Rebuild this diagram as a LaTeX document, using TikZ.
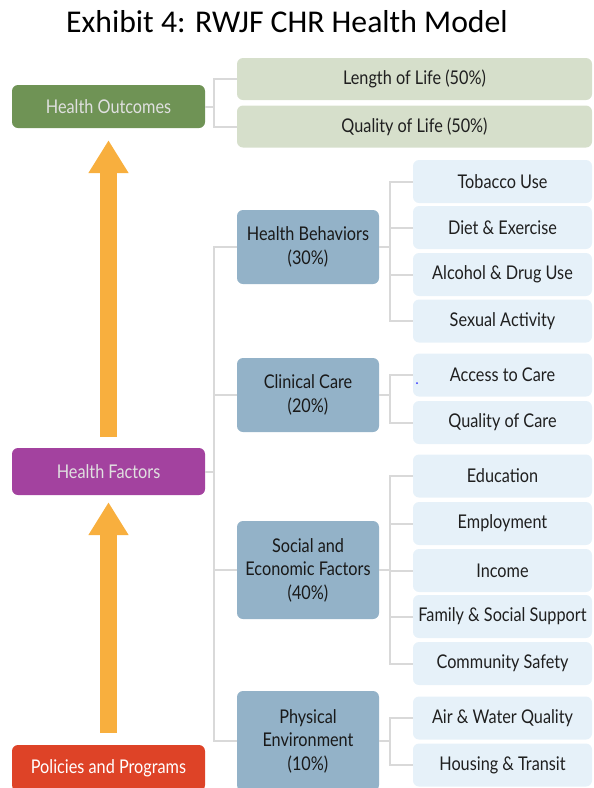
\documentclass[tikz,border=0pt]{standalone}
\usepackage{fontspec}
\setmainfont{Lato}[FakeStretch=0.86]
\newfontfamily\titlefont{Carlito}
\usepackage{xcolor}
\usetikzlibrary{arrows.meta}

\definecolor{outgreen}{HTML}{6F9355}
\definecolor{lifegreen}{HTML}{D6DFCB}
\definecolor{factpurple}{HTML}{A3429F}
\definecolor{polred}{HTML}{DE4327}
\definecolor{midblue}{HTML}{93B2C8}
\definecolor{itemblue}{HTML}{E6F1F9}
\definecolor{linkgray}{HTML}{D9D9D9}
\definecolor{upgold}{HTML}{F8AF3E}

\tikzset{
  box/.style={rounded corners=6pt, inner sep=0pt, align=center, font=\fontsize{18.9}{23.5}\selectfont},
  levelbox/.style={box, minimum width=193pt, text=white!88!black},
  lifebox/.style={box, fill=lifegreen, minimum width=355pt, minimum height=42pt, text=black!88},
  midbox/.style={box, fill=midblue, minimum width=142pt, text=black!90},
  itembox/.style={box, fill=itemblue, minimum width=179pt, minimum height=43pt, text=black!88},
  link/.style={draw=linkgray, line width=2pt},
  upward/.style={draw=upgold, line width=17pt, -{Triangle[width=38pt,length=33pt]}}
}

\begin{document}
\begin{tikzpicture}[x=1pt, y=-1pt]
  \useasboundingbox (0,0) rectangle (594,788);

  % Title
  \node[font=\titlefont\fontsize{31.7}{36}\selectfont] (title) at (287,22) {Exhibit 4: RWJF CHR Health Model};

  % Left column
  \node[levelbox, fill=outgreen, minimum height=43pt] (hout) at (108.5,106.5) {Health Outcomes};
  \node[levelbox, fill=factpurple, minimum height=47pt] (hfac) at (108.5,471.5) {Health Factors};
  \node[levelbox, fill=polred, minimum height=46pt, text=white] (pol) at (108.5,768) {Policies and Programs};

  % Outcomes
  \node[lifebox] (len) at (414.5,79) {Length of Life (50\%)};
  \node[lifebox] (qual) at (414.5,126.5) {Quality of Life (50\%)};

  % Factor groups
  \node[midbox, minimum height=74pt] (hbeh) at (308,247) {Health Behaviors\\(30\%)};
  \node[midbox, minimum height=74pt] (ccare) at (308,395) {Clinical Care\\(20\%)};
  \node[midbox, minimum height=98pt] (soc) at (308,570) {Social and\\Economic Factors\\(40\%)};
  \node[midbox, minimum height=100pt] (phys) at (308,741) {Physical\\Environment\\(10\%)};

  % Factor items
  \node[itembox] (tob) at (502.5,181.5) {Tobacco Use};
  \node[itembox] (diet) at (502.5,227.5) {Diet \& Exercise};
  \node[itembox] (alc) at (502.5,274.5) {Alcohol \& Drug Use};
  \node[itembox] (sex) at (502.5,321) {Sexual Activity};
  \node[itembox] (acc) at (502.5,375) {Access to Care};
  \node[itembox] (qcare) at (502.5,422.5) {Quality of Care};
  \node[itembox] (edu) at (502.5,476) {Education};
  \node[itembox] (emp) at (502.5,523.5) {Employment};
  \node[itembox] (inc) at (502.5,570.5) {Income};
  \node[itembox] (fam) at (502.5,616.5) {Family \& Social Support};
  \node[itembox] (com) at (502.5,663.5) {Community Safety};
  \node[itembox] (air) at (502.5,718) {Air \& Water Quality};
  \node[itembox] (hou) at (502.5,765) {Housing \& Transit};

  % Connectors
  \foreach \c in {len,qual}
    \draw[link] (hout.east) -- ++(9,0) |- (\c.west);
  \foreach \c in {hbeh,ccare,soc,phys}
    \draw[link] (hfac.east) -- ++(9,0) |- (\c.west);
  \foreach \c in {tob,diet,alc,sex}
    \draw[link] (hbeh.east) -- ++(11,0) |- (\c.west);
  \foreach \c in {acc,qcare}
    \draw[link] (ccare.east) -- ++(11,0) |- (\c.west);
  \foreach \c in {edu,emp,inc,fam,com}
    \draw[link] (soc.east) -- ++(11,0) |- (\c.west);
  \foreach \c in {air,hou}
    \draw[link] (phys.east) -- ++(11,0) |- (\c.west);

  % Big arrows
  \draw[upward, shorten <=11pt, shorten >=12pt] (hfac.north) -- (hout.south);
  \draw[upward, shorten <=12pt, shorten >=7pt] (pol.north) -- (hfac.south);

  % stray dot
  \fill[blue!80] (417,383) circle (1pt);
\end{tikzpicture}
\end{document}
